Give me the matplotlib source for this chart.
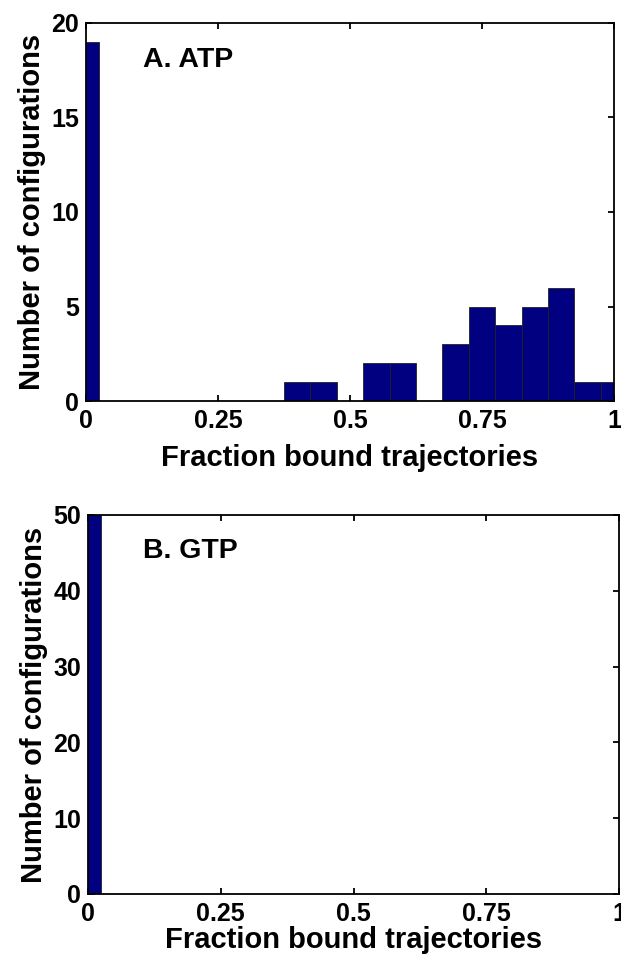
import matplotlib
matplotlib.use("Agg")
import matplotlib.pyplot as plt
import numpy as np

plt.rcParams['font.family'] = ['Liberation Sans', 'DejaVu Sans']
plt.rcParams['font.weight'] = 'bold'

# bin centres and counts, panel A (ATP)
atp_centers = [0.0, 0.40, 0.45, 0.55, 0.60, 0.70, 0.75, 0.80, 0.85, 0.90, 0.95, 1.0]
atp_counts = [19, 1, 1, 2, 2, 3, 5, 4, 5, 6, 1, 1]
# panel B (GTP)
gtp_centers = [0.0]
gtp_counts = [50]

bin_width = 0.05
xticks = [0, 0.25, 0.5, 0.75, 1]
xticklabels = ["0", "0.25", "0.5", "0.75", "1"]
bar_color = "#000080"

fig = plt.figure(figsize=(6.21, 9.56), dpi=100)
ax1 = fig.add_axes([0.1385, 0.5805, 0.8502, 0.3955])
ax2 = fig.add_axes([0.1417, 0.0649, 0.8551, 0.3964])


def style(ax, ylim, yticks, title, tx, ty, xpad):
    ax.set_xlim(0, 1)
    ax.set_ylim(*ylim)
    ax.set_xticks(xticks)
    ax.set_xticklabels(xticklabels)
    ax.set_yticks(yticks)
    ax.set_axisbelow(True)
    ax.tick_params(direction='in', length=4, width=1.3, labelsize=18,
                   top=True, right=True)
    ax.tick_params(axis='x', pad=xpad)
    ax.tick_params(axis='y', pad=5)
    for s in ax.spines.values():
        s.set_linewidth(1.3)
    ax.set_xlabel("Fraction bound trajectories", fontsize=21, fontweight='bold')
    ax.set_ylabel("Number of configurations", fontsize=21, fontweight='bold')
    ax.text(tx, ty, title, transform=ax.transAxes, fontsize=20.5,
            fontweight='bold', va='baseline')


ax1.bar(atp_centers, atp_counts, width=bin_width, color=bar_color,
        edgecolor='#222222', linewidth=0.6)
style(ax1, (0, 20), [0, 5, 10, 15, 20], "A. ATP", 0.108, 0.884, 5.5)
ax1.xaxis.labelpad = 8
ax1.yaxis.labelpad = 4

ax2.bar(gtp_centers, gtp_counts, width=bin_width, color=bar_color,
        edgecolor='#222222', linewidth=0.6)
style(ax2, (0, 50), [0, 10, 20, 30, 40, 50], "B. GTP", 0.104, 0.887, 5.5)
ax2.xaxis.labelpad = 0
ax2.yaxis.labelpad = 4

fig.savefig("out.png", dpi=100)
